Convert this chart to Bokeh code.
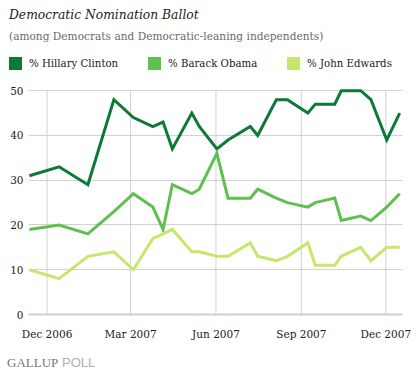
import pandas as pd
from bokeh.plotting import figure
from bokeh.layouts import column
from bokeh.models import Range1d, FixedTicker, DatetimeTickFormatter, Div
from bokeh.embed import file_html
from bokeh.resources import INLINE

# ---- data ----
poll_dates = ["2006-11-12", "2006-12-14", "2007-01-14", "2007-02-11", "2007-03-04",
              "2007-03-25", "2007-04-05", "2007-04-15", "2007-05-06", "2007-05-14",
              "2007-06-02", "2007-06-14", "2007-07-08", "2007-07-16", "2007-08-05",
              "2007-08-17", "2007-09-08", "2007-09-16", "2007-10-07", "2007-10-14",
              "2007-11-04", "2007-11-15", "2007-12-02", "2007-12-16"]
clinton = [31, 33, 29, 48, 44, 42, 43, 37, 45, 42, 37, 39, 42, 40, 48, 48, 45, 47, 47, 50, 50, 48, 39, 45]
obama = [19, 20, 18, 23, 27, 24, 19, 29, 27, 28, 36, 26, 26, 28, 26, 25, 24, 25, 26, 21, 22, 21, 24, 27]
edwards = [10, 8, 13, 14, 10, 17, 18, 19, 14, 14, 13, 13, 16, 13, 12, 13, 16, 11, 11, 13, 15, 12, 15, 15]
series_names = ["% Hillary Clinton", "% Barack Obama", "% John Edwards"]
tick_dates = ["2006-12-01", "2007-03-01", "2007-06-01", "2007-09-01", "2007-12-01"]
y_ticks = [0, 10, 20, 30, 40, 50]
title_text = "Democratic Nomination Ballot"
subtitle_text = "(among Democrats and Democratic-leaning independents)"
footer_texts = ["GALLUP", "POLL"]

colors = ["#0b7a36", "#5fbf4f", "#c6e66e"]
SERIF = "DejaVu Serif"
W = 420  # full page width (the page itself has no margin; offsets are built in)


def span(text, left, top, font, color, extra=""):
    return (f'<span style="position:absolute;left:{left}px;top:{top}px;font:{font};'
            f'color:{color};white-space:nowrap;{extra}">{text}</span>')


# ---- header: title, subtitle, legend ----
H_HEAD = 80
parts = [span(title_text, 9, 8.7, f"italic 12.3px/12.3px '{SERIF}'", "#222222"),
         span(subtitle_text, 9, 31.0, f"10.6px/10.6px '{SERIF}'", "#6a6a6a")]
for i, (name, c) in enumerate(zip(series_names, colors)):
    left = 9 + 139 * i
    parts.append(f'<span style="position:absolute;left:{left}px;top:57px;width:13px;height:13px;'
                 f'background:{c};"></span>')
    parts.append(span(name, left + 20, 58.6, f"10.2px/10.2px '{SERIF}'", "#222222"))
head = Div(text=f'<div style="position:relative;width:{W}px;height:{H_HEAD}px;">' + "".join(parts) + "</div>",
           width=W, height=H_HEAD, margin=(0, 0, 0, 0))

# ---- main chart ----
x = pd.to_datetime(poll_dates)
tick_dt = pd.to_datetime(tick_dates)
ticks_ms = [t.value / 1e6 for t in tick_dt]

H_MAIN = 262
p = figure(width=W, height=H_MAIN, output_backend="svg", toolbar_location=None,
           title_location=None, x_axis_type="datetime",
           x_range=Range1d(pd.Timestamp("2006-11-11"), pd.Timestamp("2007-12-19")),
           y_range=Range1d(0, 50.5),
           min_border_left=28, min_border_right=18, min_border_top=8, min_border_bottom=28,
           margin=(0, 0, 0, 0))
p.outline_line_color = None

p.xgrid.visible = False
p.ygrid.ticker = FixedTicker(ticks=y_ticks[1:])
p.ygrid.grid_line_color = "#d2d2d2"
p.segment(x0=tick_dt, y0=[y_ticks[0]] * len(tick_dt), x1=tick_dt, y1=[y_ticks[-1]] * len(tick_dt),
          line_color="#d2d2d2", line_width=1)

xa = p.xaxis[0]
xa.ticker = FixedTicker(ticks=ticks_ms)
fmt = "%b %Y"
xa.formatter = DatetimeTickFormatter(microseconds=fmt, milliseconds=fmt, seconds=fmt, minsec=fmt,
                                     minutes=fmt, hourmin=fmt, hours=fmt, days=fmt, months=fmt, years=fmt)
xa.major_tick_line_color = None
xa.minor_tick_line_color = None
xa.major_tick_out = 0
xa.major_tick_in = 0
xa.axis_line_color = "#d0d0ca"
xa.axis_line_width = 2
xa.major_label_standoff = 13
xa.major_label_text_font = SERIF
xa.major_label_text_font_size = "10.5px"
xa.major_label_text_color = "#222222"

ya = p.yaxis[0]
ya.ticker = FixedTicker(ticks=y_ticks)
ya.axis_line_color = None
ya.major_tick_line_color = None
ya.minor_tick_line_color = None
ya.major_tick_out = 0
ya.major_tick_in = 0
ya.major_label_standoff = 5
ya.major_label_text_font = SERIF
ya.major_label_text_font_size = "10.5px"
ya.major_label_text_color = "#222222"

for vals, c in zip([clinton, obama, edwards], colors):
    p.line(x, vals, line_color=c, line_width=3, line_join="miter")

# ---- footer ----
H_FOOT = 32
fparts = [span(footer_texts[0], 7, 14.1, "13px/13px 'Liberation Serif'", "#777777"),
          span(footer_texts[1], 62, 14.2, "13px/13px 'Liberation Sans'", "#b0b0b0")]
foot = Div(text=f'<div style="position:relative;width:{W}px;height:{H_FOOT}px;">'
                + "".join(fparts) + "</div>",
           width=W, height=H_FOOT, margin=(0, 0, 0, 0))

layout = column(head, p, foot, spacing=0)
open("out.html", "w").write(file_html(layout, INLINE))
